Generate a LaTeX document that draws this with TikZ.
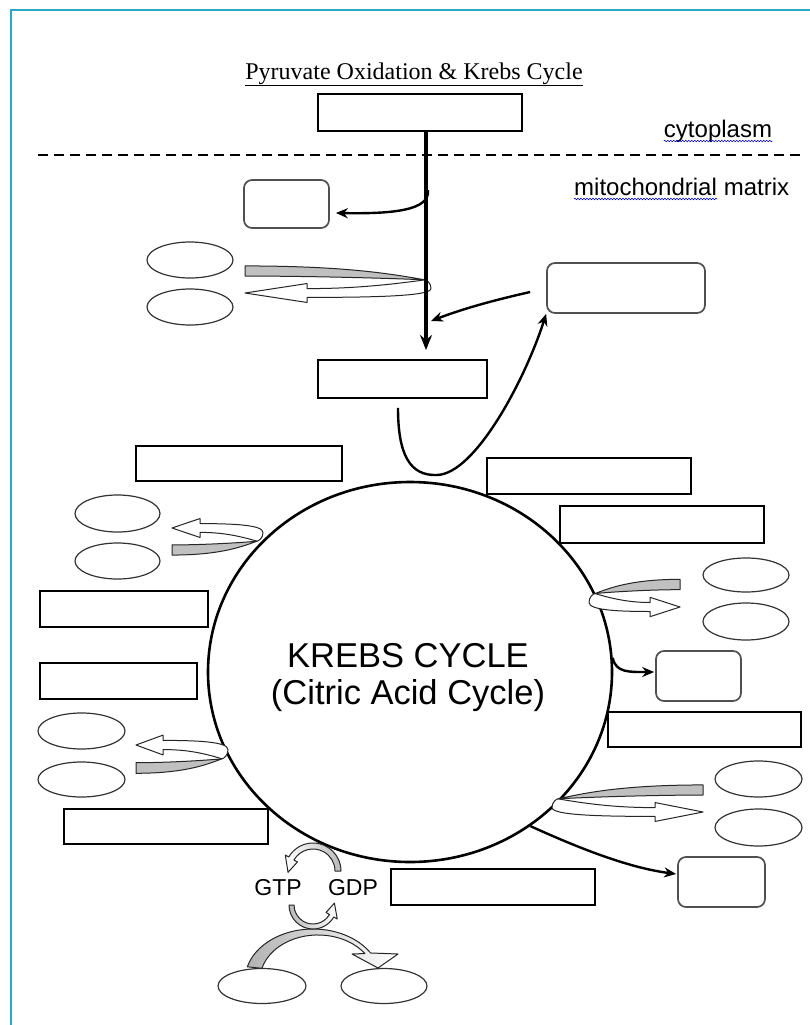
\documentclass[tikz,border=0pt]{standalone}
\usepackage{fontspec}
\setmainfont{Liberation Serif}
\newfontfamily\arialf{Liberation Sans}
\usetikzlibrary{shapes.geometric,arrows.meta,calc,decorations.pathmorphing}
\definecolor{framecol}{RGB}{44,166,196}
\definecolor{grayband}{RGB}{192,192,192}
\definecolor{rrborder}{RGB}{80,80,80}
% #1,#2 free end (gray centre), #3 xscale, #4 length to curl, #5 offset of white arrow, #6 head length
\newcommand\uturn[6]{%
\begin{scope}[shift={(#1,#2)},xscale=#3]
 \draw[uline, fill=white] (#4,{0.4*#5}) .. controls ({0.7*#4},{0.75*#5}) and ({0.5*#4},{0.8*#5}) .. (#6,{0.8*#5}) -- (#6,{0.57*#5}) -- (0,#5) -- (#6,{1.43*#5}) -- (#6,{1.2*#5}) .. controls ({0.7*#4},{1.2*#5}) and ({#4+6},{1.15*#5}) .. ({#4+6},{0.8*#5}) .. controls ({#4+6},{0.55*#5}) and ({#4+2},{0.42*#5}) .. (#4,{0.4*#5}) -- cycle;
 \draw[uline, fill=grayband] (0,{-0.23*#5}) .. controls ({0.6*#4},{-0.23*#5}) and ({0.85*#4},{0.2*#5}) .. (#4,{0.4*#5}) .. controls ({0.7*#4},{0.3*#5}) and ({0.3*#4},{0.23*#5}) .. (0,{0.23*#5}) -- cycle;
\end{scope}}
\begin{document}
\begin{tikzpicture}[x=1pt,y=-1pt,
  box/.style={draw=black, line width=1.6pt, inner sep=0pt},
  rbox/.style={draw=rrborder, line width=1.7pt, rounded corners=8pt, inner sep=0pt},
  oval/.style={draw=black!80, line width=1.2pt, ellipse, inner sep=0pt},
  arr/.style={line width=2.4pt, -{Stealth[length=12pt,width=10pt]}},
  uline/.style={draw=black!85, line width=1pt, line join=round},
  txt/.style={inner sep=0pt, font=\arialf\fontsize{24}{28}\selectfont},
  wavy/.style={draw=blue!80!black, line width=0.6pt, decorate, decoration={snake, amplitude=0.8pt, segment length=3pt}},
]
\useasboundingbox (0,0) rectangle (810,1025);
\fill[white] (0,0) rectangle (810,1025);
\draw[framecol, line width=2.2pt] (11,1025) -- (11,10) -- (810,10);

% title and region labels
\node[anchor=base, inner sep=0pt, font=\fontsize{24}{28}\selectfont] (title) at (414,79) {\underline{Pyruvate Oxidation \& Krebs Cycle}};
\node[txt, anchor=base] (cyto) at (718,137) {cytoplasm};
\node[txt, anchor=base west] (mito) at (574,195) {mitochondrial};
\node[txt, anchor=base west] (matrix) at ($(mito.base east)+(6.5,0)$) {matrix};
\draw[wavy] ($(cyto.base west)+(0,4)$) -- ($(cyto.base east)+(0,4)$);
\draw[wavy] ($(mito.base west)+(0,4)$) -- ($(mito.base east)+(0,4)$);
\coordinate (dl) at (38,155);
\coordinate (dr) at (805,155);
\draw[line width=1.5pt, dash pattern=on 10pt off 6pt] (dl) -- (dr);

% boxes
\node[box, minimum width=204pt, minimum height=37pt] (toprect) at (420,112.5) {};
\node[box, minimum width=169pt, minimum height=38pt] (midrect) at (402.5,379) {};
\node[box, minimum width=206pt, minimum height=35pt] (r1) at (239,463.5) {};
\node[box, minimum width=204pt, minimum height=36pt] (r2) at (589,476) {};
\node[box, minimum width=204pt, minimum height=37pt] (r3) at (662,524.5) {};
\node[box, minimum width=168pt, minimum height=36pt] (r4) at (124,609) {};
\node[box, minimum width=157pt, minimum height=36pt] (r5) at (118.5,681) {};
\node[box, minimum width=193pt, minimum height=35pt] (r6) at (704.5,729.5) {};
\node[box, minimum width=204pt, minimum height=35pt] (r7) at (166,826.5) {};
\node[box, minimum width=204pt, minimum height=36pt] (r8) at (493,887) {};

\node[rbox, minimum width=85pt, minimum height=48pt] (rr1) at (286.5,204) {};
\node[rbox, minimum width=158pt, minimum height=50pt] (rr2) at (626,288) {};
\node[rbox, minimum width=85pt, minimum height=50pt] (rr3) at (698.5,676) {};
\node[rbox, minimum width=87pt, minimum height=50pt] (rr4) at (721.5,882) {};

% ovals
\node[oval, minimum width=86pt, minimum height=36pt] (e1) at (190,260) {};
\node[oval, minimum width=86pt, minimum height=36pt] (e2) at (190,307) {};
\node[oval, minimum width=85pt, minimum height=37pt] (e3) at (117.5,513.5) {};
\node[oval, minimum width=85pt, minimum height=36pt] (e4) at (117.5,561) {};
\node[oval, minimum width=87pt, minimum height=36pt] (e5) at (81.5,731) {};
\node[oval, minimum width=87pt, minimum height=35pt] (e6) at (81.5,779.5) {};
\node[oval, minimum width=86pt, minimum height=34pt] (e7) at (746,575) {};
\node[oval, minimum width=86pt, minimum height=37pt] (e8) at (746,621.5) {};
\node[oval, minimum width=87pt, minimum height=36pt] (e9) at (758.5,779) {};
\node[oval, minimum width=87pt, minimum height=37pt] (e10) at (758.5,827.5) {};
\node[oval, minimum width=88pt, minimum height=35pt] (e11) at (262,986) {};
\node[oval, minimum width=86pt, minimum height=35pt] (e12) at (384,986) {};

% Krebs cycle
\node[draw, ellipse, line width=2.6pt, minimum width=404pt, minimum height=380pt, inner sep=0pt] (krebs) at (410,672) {};
\node[anchor=base, inner sep=0pt, font=\arialf\fontsize{34.5}{38}\selectfont] (k1) at (408,667) {KREBS CYCLE};
\node[anchor=base, inner sep=0pt, font=\arialf\fontsize{34.5}{38}\selectfont] (k2) at (408,704) {(Citric Acid Cycle)};

% U-turn arrows
\uturn{245}{271}{1}{180}{22}{62}
\uturn{172}{550}{1}{85}{-22}{28}
\uturn{136}{768}{1}{86}{-23}{27}
\uturn{680}{584.5}{-1}{85}{22.5}{30}
\uturn{703}{790}{-1}{145}{22}{48}

% main vertical path
\coordinate (vend) at (426,350);
\draw[line width=3.2pt, -{Stealth[length=15pt,width=12pt]}] ($(toprect.south)+(6,0)$) -- (vend);
\coordinate (v1) at (428,190);
\draw[arr] (v1) .. controls (430,210) and (395,214) .. ($(rr1.east)+(6,9)$);
\coordinate (v2) at (431,321);
\draw[arr] ($(rr2.west)+(-16,4)$) .. controls (495,300) and (465,308) .. (v2);
\draw[arr] ($(midrect.south)+(-4.5,9)$) .. controls (398,455) and (410,476) .. (437,475) .. controls (475,474) and (525,380) .. (rr2.south west);

% arrows from the cycle
\draw[arr] (krebs.4) .. controls +(3,15) and +(-25,0) .. ($(rr3.west)+(-1,-4)$);
\draw[arr] (krebs.-52) .. controls +(55,25) and +(-45,-6) .. ($(rr4.west)+(-1,-8)$);

% GTP / GDP
\node[txt, anchor=base, font=\arialf\fontsize{23}{26}\selectfont] (gtp) at (278,895) {GTP};
\node[txt, anchor=base, font=\arialf\fontsize{23}{26}\selectfont] (gdp) at (353,895) {GDP};
\coordinate (c1) at (313,871);
\coordinate (c2) at (313,905);
\path[uline, left color=gray!60, middle color=white, right color=white]
  (247.3,966.8) arc[start angle=-165, end angle=-32, x radius=68, y radius=51] -- (398,954) -- (378,968) -- (352,954) -- (364.9,953.5) arc[start angle=-36, end angle=-165, x radius=58, y radius=45] -- cycle;
\path[uline, left color=white, middle color=white, right color=gray!55]
  ($(c1)+(0:22)$) -- ($(c1)+(0:28)$) arc[start angle=0, end angle=-150, radius=28] -- ($(c1)+(-150:32)$) -- ($(c1)+(-183:25)$) -- ($(c1)+(-150:18)$) -- ($(c1)+(-150:22)$) arc[start angle=-150, end angle=0, radius=22] -- cycle;
\path[uline, left color=gray!55, middle color=white, right color=white]
  ($(c2)+(180:19)$) -- ($(c2)+(180:24)$) arc[start angle=180, end angle=30, radius=24] -- ($(c2)+(30:28)$) -- ($(c2)+(-5:21.5)$) -- ($(c2)+(30:15)$) -- ($(c2)+(30:19)$) arc[start angle=30, end angle=180, radius=19] -- cycle;
\end{tikzpicture}
\end{document}
